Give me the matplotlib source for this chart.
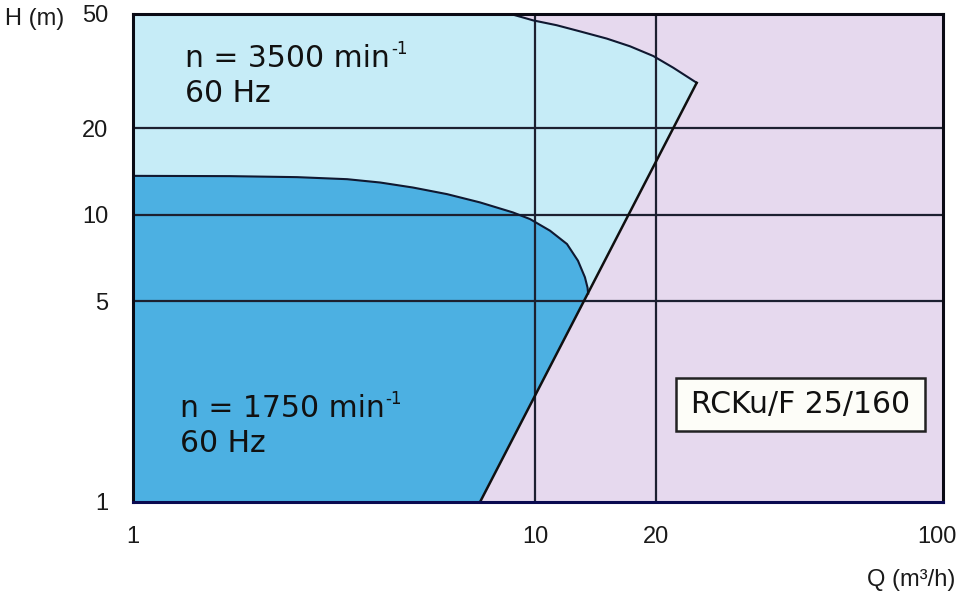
import matplotlib
matplotlib.use("Agg")
import matplotlib.pyplot as plt
from matplotlib.patches import Polygon, Rectangle
from matplotlib.transforms import offset_copy

plt.rcParams['font.family'] = ['Liberation Sans', 'DejaVu Sans']

# ---- data ----
q_3500 = [8.7, 9.90, 11.32, 12.94, 15.08, 17.23, 19.69, 22.08, 25.25]
h_3500 = [50.0, 47.5, 45.7, 43.5, 41.06, 38.6, 35.7, 32.5, 28.8]

q_1750 = [1.0, 1.74, 2.56, 3.41, 4.12, 4.97, 6.04, 7.30, 8.81, 9.72,
          10.9, 12.01, 12.79, 13.31, 13.51, 13.56]
h_1750 = [13.66, 13.63, 13.52, 13.30, 12.95, 12.44, 11.80, 11.04, 10.19, 9.66,
          8.80, 7.91, 6.92, 6.06, 5.58, 5.32]

q_limit = [7.3, 25.25]
h_limit = [1.0, 28.8]

x_ticks = [1, 10, 20, 100]
y_ticks = [1, 5, 10, 20, 50]
x_grid = [10, 20]
y_grid = [5, 10, 20]

W, H = 969, 602
fig = plt.figure(figsize=(W / 100, H / 100), dpi=100)
L, R, T, B = 133, 943, 14, 502
ax = fig.add_axes([L / W, 1 - B / H, (R - L) / W, (B - T) / H])
ax.set_xscale('log')
ax.set_yscale('log')
ax.set_xlim(1, 103.5)
ax.set_ylim(1, 50)
ax.set_facecolor('#e6d9ee')

# light region (3500 rpm)
light = [(1, 1), (1, 50)] + list(zip(q_3500, h_3500)) + [(q_limit[0], h_limit[0])]
ax.add_patch(Polygon(light, closed=True, facecolor='#c6ecf7', edgecolor='none', zorder=1))
# dark region (1750 rpm)
dark = [(1, 1)] + list(zip(q_1750, h_1750)) + [(q_limit[0], h_limit[0])]
ax.add_patch(Polygon(dark, closed=True, facecolor='#4cb0e2', edgecolor='none', zorder=2))

# grid lines
for g in x_grid:
    ax.axvline(g, color='#1c2030', lw=1.6, zorder=3)
for g in y_grid:
    ax.axhline(g, color='#1c2030', lw=1.6, zorder=3)

# curve outlines
ax.plot(q_3500, h_3500, color='#101830', lw=1.5, zorder=4, solid_joinstyle='round')
ax.plot(q_1750, h_1750, color='#101830', lw=1.5, zorder=4, solid_joinstyle='round')
ax.plot(q_limit, h_limit, color='#101010', lw=1.8, zorder=4)

for s in ax.spines.values():
    s.set_linewidth(2.2)
    s.set_color('#0a0a14')
    s.set_zorder(6)
ax.spines['bottom'].set_color('#0a0a50')

ax.set_xticks(x_ticks)
ax.set_xticklabels([str(v) for v in x_ticks])
ax.set_yticks(y_ticks)
ax.set_yticklabels([str(v) for v in y_ticks])
ax.minorticks_off()
ax.tick_params(axis='both', length=0, labelsize=17, colors='#1a1a1a')
ax.tick_params(axis='x', pad=17)
ax.tick_params(axis='y', pad=18)

# annotations
ann_font = dict(family=['DejaVu Sans'], fontsize=21.5, color='#111111', va='baseline')
t1 = fig.text(185 / W, 1 - 67 / H, 'n = 3500 min', **ann_font)
fig.text(185 / W, 1 - 102 / H, '60 Hz', **ann_font)
t2 = fig.text(180 / W, 1 - 417 / H, 'n = 1750 min', **ann_font)
fig.text(180 / W, 1 - 452 / H, '60 Hz', **ann_font)

fig.canvas.draw()
renderer = fig.canvas.get_renderer()
for t in (t1, t2):
    bb = t.get_window_extent(renderer)
    x0, y0 = t.get_position()
    fig.text(bb.x1 / W + 1 / W, y0 + 13 / H, '-1', family=['DejaVu Sans'],
             fontsize=12, color='#111111', va='baseline')

# model box
bx0, bx1, by0, by1 = 676, 925, 378, 431
ax.add_patch(Rectangle(((bx0 - L) / (R - L), (B - by1) / (B - T)),
                       (bx1 - bx0) / (R - L), (by1 - by0) / (B - T),
                       transform=ax.transAxes, facecolor='#fdfdf8',
                       edgecolor='#222222', lw=1.8, zorder=7))
ax.text(((bx0 + bx1) / 2 - L) / (R - L), (B - (by0 + by1) / 2) / (B - T), 'RCKu/F 25/160',
        transform=ax.transAxes, ha='center', va='center', fontsize=21.5,
        family=['DejaVu Sans'], color='#111111', zorder=8)

fig.text(5 / W, 1 - 19 / H, 'H (m)', fontsize=17, color='#1a1a1a', va='center', ha='left')
fig.text(955 / W, 1 - 580 / H, 'Q (m³/h)', fontsize=17, color='#1a1a1a', va='center', ha='right')

fig.savefig('out.png', dpi=100)
